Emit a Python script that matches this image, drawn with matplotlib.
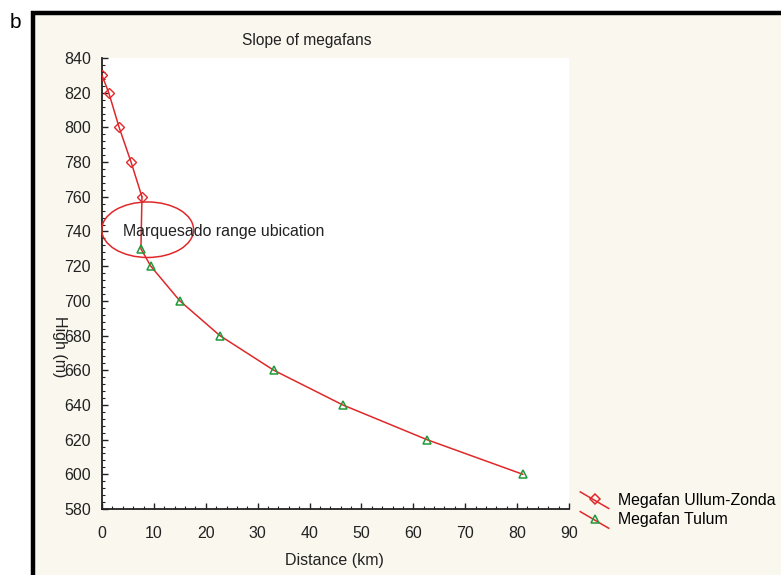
import matplotlib.pyplot as plt
from matplotlib.patches import Ellipse, Rectangle
from matplotlib.lines import Line2D
from matplotlib.legend_handler import HandlerBase
from matplotlib.ticker import MultipleLocator

plt.rcParams['font.family'] = ['Liberation Sans', 'DejaVu Sans']

# Megafan Ullum-Zonda
uz_dist = [0, 1.3, 3.3, 5.6, 7.7]
uz_high = [830, 820, 800, 780, 760]

# Megafan Tulum
tu_dist = [7.5, 9.4, 15.0, 22.7, 33.1, 46.4, 62.6, 81.1]
tu_high = [730, 720, 700, 680, 660, 640, 620, 600]

RED = '#e0282a'
GREEN = '#1f9a3a'
CREAM = '#faf7ee'


class DiagHandler(HandlerBase):
    def create_artists(self, legend, orig_handle, xdescent, ydescent,
                       width, height, fontsize, trans):
        ln = Line2D([-xdescent, width - xdescent],
                    [height * 1.15 - ydescent, -height * 0.35 - ydescent],
                    color=RED, lw=1.1, transform=trans)
        mk = Line2D([width / 2 - xdescent], [height / 2 - ydescent],
                    marker=orig_handle.get_marker(), ms=orig_handle.get_markersize(),
                    mfc='none', mec=orig_handle.get_markeredgecolor(),
                    mew=1.1, ls='none', transform=trans)
        return [ln, mk]


fig = plt.figure(figsize=(7.81, 5.75), dpi=100, facecolor='white')

# framed cream panel
fig.patches.append(Rectangle((33 / 781, -0.1), 1.2, 1 - 13 / 575 + 0.1,
                             transform=fig.transFigure, facecolor=CREAM,
                             edgecolor='black', lw=3.2, zorder=-10))
fig.text(10 / 781, 1 - 22 / 575, 'b', fontsize=15, va='center', ha='left')

ax = fig.add_axes([102 / 781, 1 - 509 / 575, (569 - 102) / 781, (509 - 58) / 575])
ax.set_facecolor('white')

ax.plot(uz_dist, uz_high, color=RED, lw=1.1, marker='D', ms=5,
        mfc='none', mec=RED, mew=1.0, zorder=3)
ax.plot([uz_dist[-1]] + tu_dist, [uz_high[-1]] + tu_high, color=RED, lw=1.1, zorder=2)
ax.plot(tu_dist, tu_high, ls='none', marker='^', ms=6, mfc='none', mec=GREEN,
        mew=1.1, zorder=3)
# legend proxies carry the marker style
h1 = Line2D([], [], marker='D', ms=5, mec=RED, color=RED)
h2 = Line2D([], [], marker='^', ms=6, mec=GREEN, color=RED)

ax.add_patch(Ellipse((8.8, 741), 17.7, 32, fill=False, edgecolor=RED, lw=1.1,
                     clip_on=False, zorder=4))
ax.text(4.0, 740, 'Marquesado range ubication', fontsize=11.4, va='center',
        ha='left', color='#222222', zorder=5)

ax.set_xlim(0, 90)
ax.set_ylim(580, 840)
ax.xaxis.set_major_locator(MultipleLocator(10))
ax.xaxis.set_minor_locator(MultipleLocator(2))
ax.yaxis.set_major_locator(MultipleLocator(20))
ax.yaxis.set_minor_locator(MultipleLocator(4))
for s in ['top', 'right']:
    ax.spines[s].set_visible(False)
for s in ['left', 'bottom']:
    ax.spines[s].set_linewidth(1.3)
    ax.spines[s].set_color('#222222')
ax.tick_params(which='major', direction='in', length=4, width=1, labelsize=11.5,
               colors='#222222', pad=8)
ax.tick_params(axis='x', which='major', pad=12)
ax.tick_params(which='minor', direction='in', length=2, width=0.8, colors='#222222')

fig.text(307 / 781, 1 - 40 / 575, 'Slope of megafans', fontsize=11.2,
         ha='center', va='center', color='#222222')
fig.text(59 / 781, 1 - 347 / 575, 'High (m)', fontsize=11.5, rotation=270,
         ha='center', va='center', color='#222222')
fig.text(334 / 781, 1 - 560 / 575, 'Distance (km)', fontsize=11.5,
         ha='center', va='center', color='#222222')

fig.legend([h1, h2], ['Megafan Ullum-Zonda', 'Megafan Tulum'],
           handler_map={Line2D: DiagHandler()}, loc='center left',
           bbox_to_anchor=(566 / 781, 1 - 510 / 575), frameon=False,
           fontsize=11.4, handlelength=1.8, handletextpad=0.6, labelspacing=0.3)

fig.savefig('out.png', dpi=100, facecolor=fig.get_facecolor())
